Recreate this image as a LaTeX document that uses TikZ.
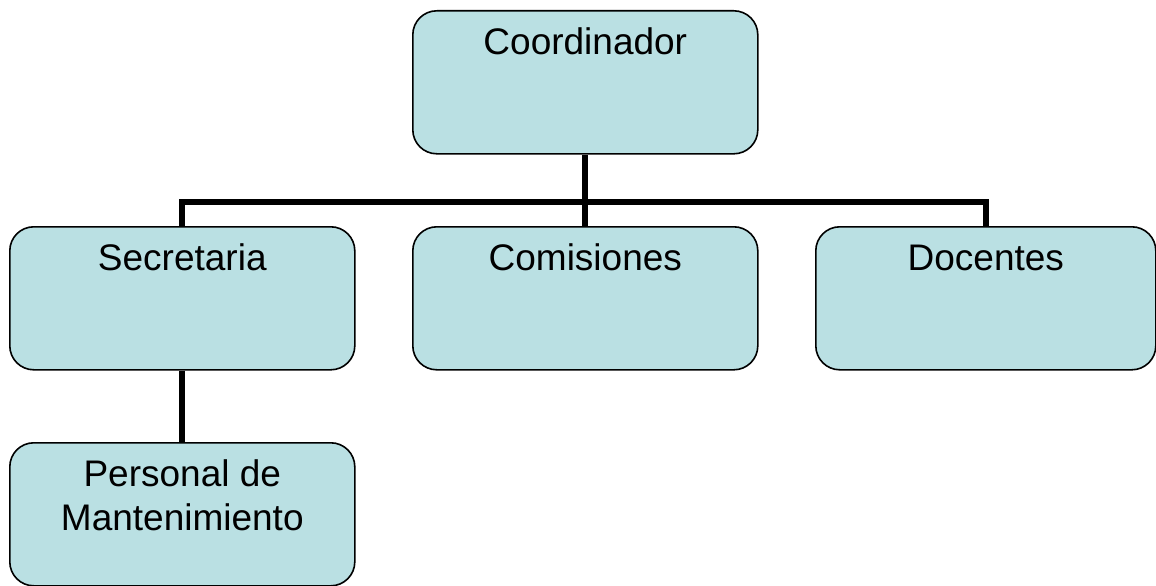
\documentclass[tikz,border=0pt]{standalone}
\usepackage{fontspec}
\setmainfont{Liberation Sans}
\definecolor{boxfill}{HTML}{BAE0E3}
\begin{document}
\begin{tikzpicture}[x=1pt,y=-1pt,
  orgbox/.style={draw=black,line width=1.6pt,fill=boxfill,rounded corners=24pt,
    minimum width=#1,minimum height=143pt,inner sep=0pt,anchor=north west},
  orgbox/.default=345pt,
  labelbase/.style={anchor=north,inner sep=0pt,yshift=-17pt,align=center,
    font=\fontsize{37}{44}\selectfont},
  boxlabel/.style={labelbase,text height=27pt},
  link/.style={line width=6pt,draw=black}]
\useasboundingbox (0,0) rectangle (1156,586);
\node[orgbox, label={[boxlabel]north:Coordinador}] (coord) at (412,10) {};
\node[orgbox, label={[boxlabel]north:Secretaria}] (sec) at (9,226) {};
\node[orgbox, label={[boxlabel]north:Comisiones}] (com) at (412,226) {};
\node[orgbox=340pt, label={[boxlabel]north:Docentes}] (doc) at (815,226) {};
\node[orgbox, label={[labelbase]north:Personal de\\Mantenimiento}] (pers) at (9,442) {};
\coordinate (bar) at (0,202);
\draw[link] (coord.south) -- (coord.south |- bar);
\draw[link] (sec.north) -- (sec.north |- bar) -- (doc.north |- bar) -- (doc.north);
\draw[link] (com.north) -- (com.north |- bar);
\draw[link] (sec.south) -- (pers.north);
\end{tikzpicture}
\end{document}
